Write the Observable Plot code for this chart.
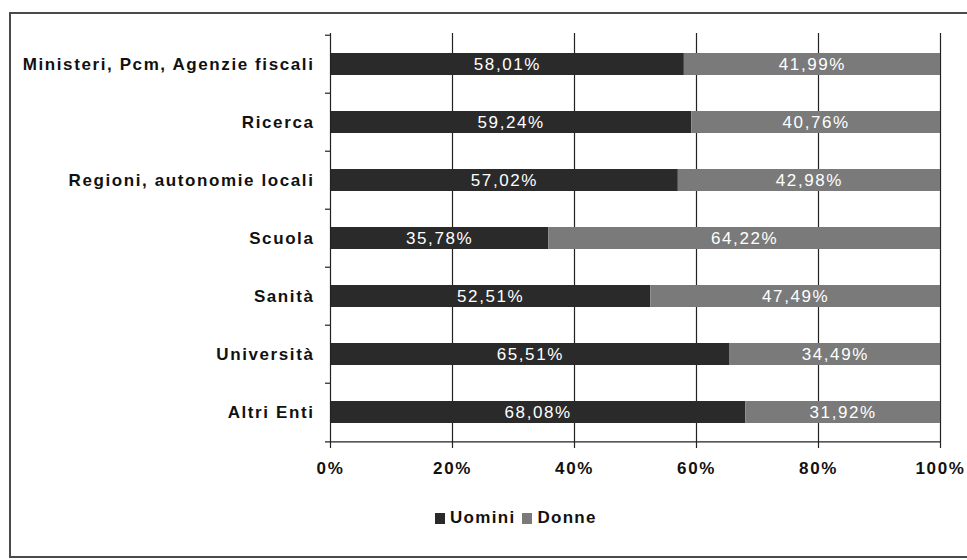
<!DOCTYPE html>
<html>
<head>
<meta charset="utf-8">
<script src="https://cdn.jsdelivr.net/npm/d3@7"></script>
<script src="https://cdn.jsdelivr.net/npm/@observablehq/plot@0.6"></script>
<style>
  html, body { margin: 0; padding: 0; background: #fff; overflow: hidden; }
  #wrap { position: relative; width: 967px; height: 560px; overflow: hidden; font-family: "Liberation Sans", Arial, sans-serif; }
  #border { position: absolute; left: 9px; top: 12px; width: 1010px; height: 546px; border: 2px solid #4a4a4a; border-right: none; box-sizing: border-box; }
  #chart { position: absolute; left: 0; top: 0; }
  #chart svg text { letter-spacing: 1.6px; }
  #legend { position: absolute; left: 435px; top: 508px; display: flex; align-items: center; font-weight: bold; font-size: 17px; letter-spacing: 1.3px; color: #111; }
  #legend .sw { width: 10px; height: 11px; display: inline-block; margin-right: 5px; }
  #legend .item { display: flex; align-items: center; margin-right: 7px; }
</style>
</head>
<body>
<div id="wrap">
  <div id="border"></div>
  <div id="chart"></div>
  <div id="legend"></div>
</div>
<script>
const categories = ["Ministeri, Pcm, Agenzie fiscali", "Ricerca", "Regioni, autonomie locali", "Scuola", "Sanità", "Università", "Altri Enti"];
const uomini = [58.01, 59.24, 57.02, 35.78, 52.51, 65.51, 68.08];
const donne = [41.99, 40.76, 42.98, 64.22, 47.49, 34.49, 31.92];
const seriesNames = ["Uomini", "Donne"];
const seriesColors = ["#2a2a2a", "#7a7a7a"];
const xTicks = [0, 20, 40, 60, 80, 100];

const rows = [];
categories.forEach((c, i) => {
  rows.push({cat: c, sex: "Uomini", value: uomini[i]});
  rows.push({cat: c, sex: "Donne", value: donne[i]});
});

const W = 967, H = 485, mt = 33, mb = 42, ml = 330, mr = 27;
const step = (H - mt - mb) / categories.length;
const fmt = v => v.toFixed(2).replace(".", ",") + "%";

const chart = Plot.plot({
  width: W, height: H,
  marginLeft: ml, marginRight: mr, marginTop: mt, marginBottom: mb,
  style: {fontFamily: "'Liberation Sans', Arial, sans-serif", fontSize: "17px", color: "#111", background: "transparent"},
  x: {domain: [0, 100], ticks: xTicks, tickFormat: d => d + "%", label: null},
  y: {domain: categories, paddingInner: 0.62, paddingOuter: 0.31, label: null},
  color: {domain: seriesNames, range: seriesColors},
  marks: [
    Plot.ruleX(xTicks.filter(d => d > 0), {stroke: "#222", strokeWidth: 1.2, strokeOpacity: 1}),
    Plot.barX(rows, Plot.stackX({x: "value", y: "cat", fill: "sex", order: seriesNames})),
    Plot.ruleX([0], {stroke: "#222", strokeWidth: 1.2}),
    Plot.ruleY(categories, {y: d => d, x1: 0, x2: 0, insetLeft: -5, dy: -step / 2, stroke: "#222", strokeWidth: 1.2}),
    Plot.ruleY(categories.slice(-1), {y: d => d, x1: 0, x2: 100, insetLeft: -5, dy: step / 2, stroke: "#222", strokeWidth: 1.2}),
    Plot.text(rows, Plot.stackX({x: "value", y: "cat", z: "sex", order: seriesNames, text: d => fmt(d.value), fill: "white", fontSize: 17})),
    Plot.axisX({ticks: xTicks, tickFormat: d => d + "%", tickSize: 5, tickPadding: 13, fontWeight: "bold", fontSize: 17, stroke: "#222", strokeWidth: 1.2, label: null}),
    Plot.axisY({tickSize: 0, tickPadding: 16, fontWeight: "bold", fontSize: 17, label: null})
  ]
});
document.getElementById("chart").appendChild(chart);

const legend = document.getElementById("legend");
seriesNames.forEach((n, i) => {
  const it = document.createElement("div");
  it.className = "item";
  const sw = document.createElement("span");
  sw.className = "sw";
  sw.style.background = seriesColors[i];
  it.appendChild(sw);
  const t = document.createElement("span");
  t.textContent = n;
  it.appendChild(t);
  legend.appendChild(it);
});
</script>
</body>
</html>
